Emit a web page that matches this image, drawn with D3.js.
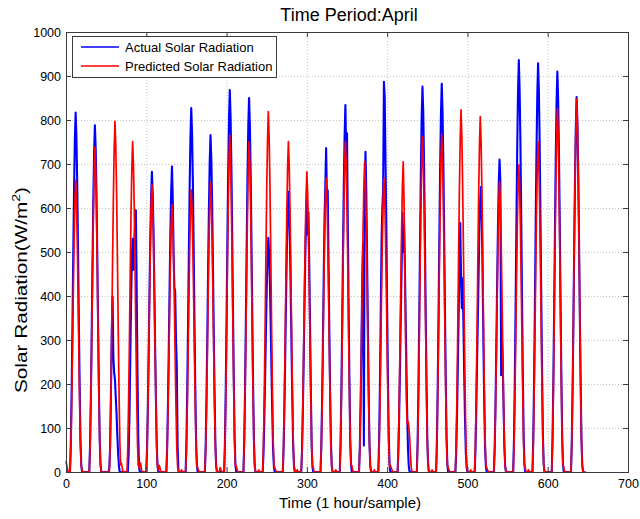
<!DOCTYPE html>
<html><head><meta charset="utf-8">
<script src="https://cdn.jsdelivr.net/npm/d3@7"></script>
<style>
body{margin:0;background:#fff}
svg{display:block;font-family:Arial,"Liberation Sans",sans-serif}
</style>
</head><body>
<svg id="chart" width="640" height="519"></svg>
<script>
const title = "Time Period:April";
const xLabel = "Time (1 hour/sample)";
const yLabelMain = "Solar Radiation(W/m";
const yLabelSup = "2";
const xTicks = [0,100,200,300,400,500,600,700];
const yTicks = [0,100,200,300,400,500,600,700,800,900,1000];
const seriesNames = ["Actual Solar Radiation","Predicted Solar Radiation"];
const seriesColors = ["#0000ff","#ff0000"];

// hourly samples, one row per day (24 values)
const actual = [
0,0,0,0,0,0,65,180,327,490,637,752,817,760,654,507,343,196,74,16,0,0,0,0,
0,0,0,0,0,0,63,173,315,473,615,725,788,733,630,489,331,189,71,16,0,0,0,0,
0,0,0,0,0,0,10,60,180,320,398,260,225,210,170,130,80,40,12,0,0,0,0,0,
0,0,0,0,0,0,40,120,250,380,480,530,460,520,560,595,420,230,80,10,0,0,0,0,
0,0,0,0,0,55,150,273,409,532,627,682,634,546,423,286,164,61,14,0,0,0,0,0,
0,0,0,0,0,0,56,153,278,416,541,638,694,620,500,420,410,300,240,60,5,0,0,0,
0,0,0,0,0,0,66,182,331,496,645,761,827,769,662,513,347,198,74,17,0,0,0,0,
0,0,0,0,0,0,61,169,306,460,597,705,766,712,613,475,322,184,69,15,0,0,0,0,
0,0,0,0,0,0,69,191,347,521,677,799,868,807,694,538,365,208,78,17,0,0,0,0,
0,0,0,0,0,0,68,187,340,510,663,782,850,791,680,527,357,204,77,17,0,0,0,0,
0,0,0,0,0,0,43,117,213,319,415,489,532,495,426,330,223,128,48,11,0,0,0,0,
0,0,0,0,0,0,0,51,140,255,382,497,586,637,592,510,395,268,153,57,13,0,0,0,
0,0,0,0,0,0,50,137,249,373,485,572,622,540,590,470,330,180,60,12,0,0,0,0,
0,0,0,0,0,0,59,162,294,442,574,650,736,620,640,480,320,180,66,15,0,0,0,0,
0,0,0,0,0,0,67,183,334,500,650,760,834,720,770,560,380,210,75,17,0,0,0,0,
0,0,0,0,0,0,58,160,290,440,520,60,620,728,640,490,330,180,65,15,0,0,0,0,
0,0,0,0,0,0,71,195,355,520,600,640,887,850,700,550,370,210,80,18,0,0,0,0,
0,0,0,0,0,0,47,130,236,353,460,589,500,560,480,360,240,130,50,12,0,0,0,0,
0,0,0,0,0,0,70,193,350,526,683,806,876,815,701,543,368,210,79,18,0,0,0,0,
0,0,0,0,0,0,71,194,353,529,688,811,882,820,706,547,370,212,79,18,0,0,0,0,
0,0,0,0,0,0,45,125,230,350,470,566,450,372,440,340,220,120,45,10,0,0,0,0,
0,0,0,0,0,0,50,140,250,350,460,560,620,648,570,430,280,150,55,12,0,0,0,0,
0,0,0,0,0,0,57,156,284,426,554,653,710,660,220,300,250,150,60,14,0,0,0,0,
0,0,0,0,0,0,75,206,374,562,730,861,936,870,749,580,393,225,84,19,0,0,0,0,
0,0,0,0,0,0,74,204,372,557,725,855,929,864,743,576,390,223,84,19,0,0,0,0,
0,0,0,0,0,0,73,200,364,546,710,837,910,846,728,564,382,218,82,18,0,0,0,0,
0,0,0,0,0,0,68,187,341,511,665,784,852,792,682,528,358,204,77,17,0,0,0,0
];

const predicted = [
25,15,5,0,0,0,53,146,265,398,517,610,663,617,530,411,278,159,60,13,5,0,0,0,
0,0,0,0,0,0,59,163,296,443,576,680,739,687,591,458,310,177,67,15,0,0,0,0,
0,0,0,0,0,0,0,64,175,319,478,622,733,797,741,638,494,335,191,72,16,20,10,0,
0,0,0,0,0,60,165,300,451,586,691,751,698,601,466,315,180,68,15,10,10,20,5,0,
0,0,0,0,0,52,144,262,392,510,602,654,608,523,405,275,157,59,13,5,15,10,0,0,
0,0,0,0,0,0,49,134,243,364,473,558,607,565,486,376,255,146,55,12,0,0,0,0,
5,0,0,0,0,0,51,141,256,385,500,590,641,596,513,397,269,154,58,13,10,5,0,0,
0,0,0,0,0,0,53,145,263,394,512,604,657,611,526,407,276,158,59,13,0,0,0,0,
10,5,0,0,0,0,61,169,306,460,597,705,766,712,613,475,322,184,69,15,15,5,0,0,
0,0,0,0,0,0,60,165,300,451,586,691,751,698,601,466,315,180,68,15,0,0,0,0,
5,0,0,0,0,0,66,180,328,491,639,753,819,762,655,508,344,197,74,16,10,5,0,0,
0,0,0,0,0,0,0,60,165,300,451,586,691,751,698,601,466,315,180,68,15,0,0,0,
5,0,0,0,0,0,55,150,273,409,532,627,682,634,546,423,286,164,61,14,10,0,0,0,
0,0,0,0,0,0,53,147,267,401,521,615,668,621,534,414,281,160,60,13,0,0,0,0,
5,0,0,0,0,0,60,165,300,451,586,691,751,698,601,466,315,180,68,15,15,5,0,0,
0,0,0,0,0,0,56,155,282,423,550,649,705,656,564,437,296,169,63,14,0,0,0,0,
5,0,0,0,0,0,53,147,267,401,521,615,668,621,534,414,281,160,60,13,15,10,5,0,
0,0,0,0,0,0,56,155,282,423,550,649,705,620,470,300,160,110,115,105,80,40,10,0,
0,0,0,0,0,0,61,168,305,457,594,701,762,709,610,472,320,183,69,15,0,0,0,0,
5,0,0,0,0,0,61,169,306,460,597,705,766,712,613,475,322,184,69,15,10,5,0,0,
0,0,0,0,0,0,66,181,329,494,642,757,823,765,658,510,346,198,74,16,0,0,0,0,
5,0,0,0,0,0,65,178,323,485,630,743,808,751,646,501,339,194,73,16,10,5,0,0,
0,0,0,0,0,0,53,145,264,396,515,607,660,614,528,409,277,158,59,13,0,0,0,0,
0,0,0,0,0,0,56,154,279,419,544,642,698,649,558,433,293,168,63,14,10,0,0,0,
5,0,0,0,0,0,60,165,300,451,586,691,751,698,601,466,315,180,68,15,0,0,0,0,
0,0,0,0,0,0,66,182,330,496,644,760,826,768,661,512,347,198,74,17,10,0,0,0,
0,0,0,0,0,0,68,187,339,509,661,780,848,789,678,526,356,204,76,17,0,0,0,0
];

const svg = d3.select("#chart");
const W = 640, H = 519;
const m = {l:66, r:628, t:32, b:472};
const x = d3.scaleLinear().domain([0,700]).range([m.l, m.r]);
const y = d3.scaleLinear().domain([0,1000]).range([m.b, m.t]);

svg.append("rect").attr("width",W).attr("height",H).attr("fill","#fff");

// grid
const grid = svg.append("g").attr("stroke","#b4b4b4").attr("stroke-width",0.8).attr("stroke-dasharray","1,2");
grid.selectAll("line.gx").data(xTicks.filter(t=>t>0 && t<700)).join("line")
  .attr("x1",d=>x(d)+0.5).attr("x2",d=>x(d)+0.5).attr("y1",m.t).attr("y2",m.b);
grid.selectAll("line.gy").data(yTicks.filter(t=>t>0 && t<1000)).join("line")
  .attr("y1",d=>y(d)+0.5).attr("y2",d=>y(d)+0.5).attr("x1",m.l).attr("x2",m.r);

// series
const line = d3.line().x((d,i)=>x(i)).y(d=>y(d));
const widths = [2.1, 1.7];
[actual, predicted].forEach((s,k)=>{
  svg.append("path").datum(s).attr("fill","none")
    .attr("stroke",seriesColors[k]).attr("stroke-width",widths[k])
    .attr("stroke-linejoin","round").attr("d",line);
});

// axes (inward ticks, MATLAB style)
const axisColor = "#3a3a3a";
function styleAxis(g){
  g.select(".domain").remove();
  g.selectAll(".tick line").attr("stroke",axisColor);
  g.selectAll(".tick text").attr("fill","#000").attr("font-size","12.5px")
    .attr("font-family","Arial, 'Liberation Sans', sans-serif");
}
svg.append("g").attr("transform",`translate(0,${m.b})`)
  .call(d3.axisBottom(x).tickValues(xTicks).tickSizeInner(-5).tickSizeOuter(0).tickPadding(7).tickFormat(d3.format("d")))
  .call(styleAxis);
svg.append("g").attr("transform",`translate(0,${m.t})`)
  .call(d3.axisTop(x).tickValues(xTicks).tickSizeInner(-5).tickSizeOuter(0).tickFormat(""))
  .call(styleAxis);
svg.append("g").attr("transform",`translate(${m.l},0)`)
  .call(d3.axisLeft(y).tickValues(yTicks).tickSizeInner(-5).tickSizeOuter(0).tickPadding(5).tickFormat(d3.format("d")))
  .call(styleAxis);
svg.append("g").attr("transform",`translate(${m.r},0)`)
  .call(d3.axisRight(y).tickValues(yTicks).tickSizeInner(-5).tickSizeOuter(0).tickFormat(""))
  .call(styleAxis);

svg.append("rect").attr("x",m.l+0.5).attr("y",m.t+0.5).attr("width",m.r-m.l).attr("height",m.b-m.t)
  .attr("fill","none").attr("stroke",axisColor).attr("stroke-width",1);

// title & labels
svg.append("text").attr("x",349).attr("y",21).attr("text-anchor","middle")
  .attr("font-size","18px").attr("fill","#000").text(title);
svg.append("text").attr("x",(m.l+m.r)/2+3).attr("y",508).attr("text-anchor","middle")
  .attr("font-size","15px").attr("fill","#000").text(xLabel);
const yl = svg.append("text").attr("transform","translate(27,290) rotate(-90) scale(1.22,1)")
  .attr("text-anchor","middle").attr("font-size","17px").attr("fill","#000");
yl.append("tspan").text(yLabelMain);
yl.append("tspan").attr("font-size","11.5px").attr("dy","-7").text(yLabelSup);
yl.append("tspan").attr("dy","7").text(")");

// legend
const lg = svg.append("g");
lg.append("rect").attr("x",72.5).attr("y",36.5).attr("width",204).attr("height",41)
  .attr("fill","#fff").attr("stroke",axisColor).attr("stroke-width",1);
seriesNames.forEach((n,k)=>{
  const yy = 47 + k*19;
  lg.append("line").attr("x1",81).attr("x2",119).attr("y1",yy).attr("y2",yy)
    .attr("stroke",seriesColors[k]).attr("stroke-width",1.7);
  lg.append("text").attr("x",125).attr("y",yy+4.5).attr("font-size","13px").attr("fill","#000").text(n);
});
</script>
</body></html>
